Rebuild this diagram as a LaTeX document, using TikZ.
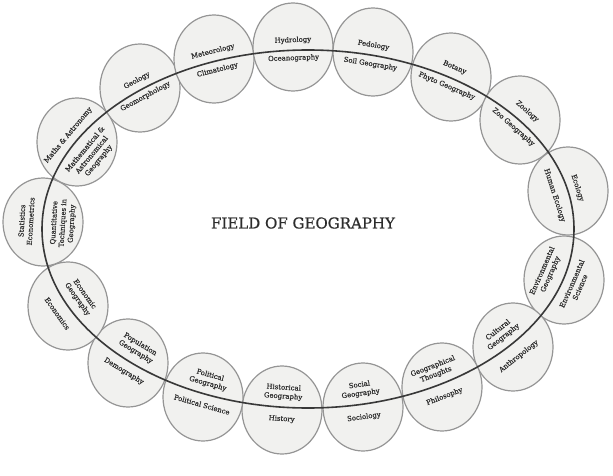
\documentclass[tikz,border=0pt]{standalone}
\usepackage{fontspec}
\setmainfont{DejaVu Serif}
\newfontfamily\labfont{DejaVu Serif}[FakeBold=0.35]
\newfontfamily\titfont{DejaVu Serif}[FakeBold=0.6]
\usetikzlibrary{shapes.geometric}
\definecolor{circfill}{HTML}{F1F1EF}
\definecolor{circline}{HTML}{959595}
\definecolor{mainline}{HTML}{383838}
\definecolor{txt}{HTML}{2C2C2C}
\begin{document}
\begin{tikzpicture}[x=1pt,y=1pt,
  bubble/.style={ellipse, minimum width=80pt, minimum height=88pt, draw=circline, line width=1.2pt, fill=circfill, inner sep=0pt},
  lab/.style={font=\labfont\fontsize{6.9}{8.8}\selectfont, text=txt, align=center, inner sep=0pt},
  titlestyle/.style={font=\titfont\fontsize{15}{18}\selectfont, text=txt}]
\useasboundingbox (0,0) rectangle (613,475);
\fill[white] (0,0) rectangle (613,475);
% bubbles
\foreach \X/\Y [count=\i] in {140/387,214/416,293/428,373/423,451/398,520/355,568/284,564/195,513/128,442/88,363/68,282/65,203/78,128/112,68/169,43/253,77/333}
  \node[bubble] (c\i) at (\X,\Y) {};
% ring line
\draw[mainline, line width=1.6pt] (308,246) ellipse [x radius=266, y radius=179];
% labels
\foreach \X/\Y/\outer/\inner/\dout/\din [count=\i] in {
  140/387/{Geology}/{Geomorphology}/10/8,
  214/416/{Meteorology}/{Climatology}/10/9,
  293/428/{Hydrology}/{Oceanography}/10/8,
  373/423/{Pedology}/{Soil Geography}/10/9,
  451/398/{Botany}/{Phyto Geography}/11/9,
  520/355/{Zoology}/{Zoo Geography}/12/9,
  568/284/{Ecology}/{Human Ecology}/10/14,
  564/195/{Environmental\\Science}/{Environmental\\Geography}/14/18,
  513/128/{Anthropology}/{Cultural\\Geography}/14/15,
  442/88/{Philosophy}/{Geographical\\Thoughts}/13/15,
  363/68/{Sociology}/{Social\\Geography}/13/15,
  282/65/{History}/{Historical\\Geography}/12/15,
  203/78/{Political Science}/{Political\\Geography}/11/15,
  128/112/{Demography}/{Population\\Geography}/11/16,
  68/169/{Economics}/{Economic\\Geography}/13/16,
  43/253/{Statistics\\Econometrics}/{Quantitative\\Techniques in\\Geography}/16/21,
  77/333/{Maths \& Astronomy}/{Mathematical \&\\Astronomical\\Geography}/10/21}
{
  \pgfmathsetmacro\myt{atan2((\Y-246)/179,(\X-308)/266)}
  \pgfmathsetmacro\ang{atan2(179*cos(\myt),-266*sin(\myt))}
  \pgfmathsetmacro\ang{\ang>90 ? \ang-180 : (\ang<=-90 ? \ang+180 : \ang)}
  \pgfmathsetmacro\nphi{atan2(266*sin(\myt),179*cos(\myt))}
  \pgfmathsetmacro\ex{308+266*cos(\myt)}
  \pgfmathsetmacro\ey{246+179*sin(\myt)}
  \node[lab, rotate=\ang] (o\i) at ([shift={(\nphi:\dout)}]\ex,\ey) {\outer};
  \node[lab, rotate=\ang] (n\i) at ([shift={(\nphi:-\din)}]\ex,\ey) {\inner};
}
\node[titlestyle] (title) at (303,252) {FIELD OF GEOGRAPHY};
\end{tikzpicture}
\end{document}
